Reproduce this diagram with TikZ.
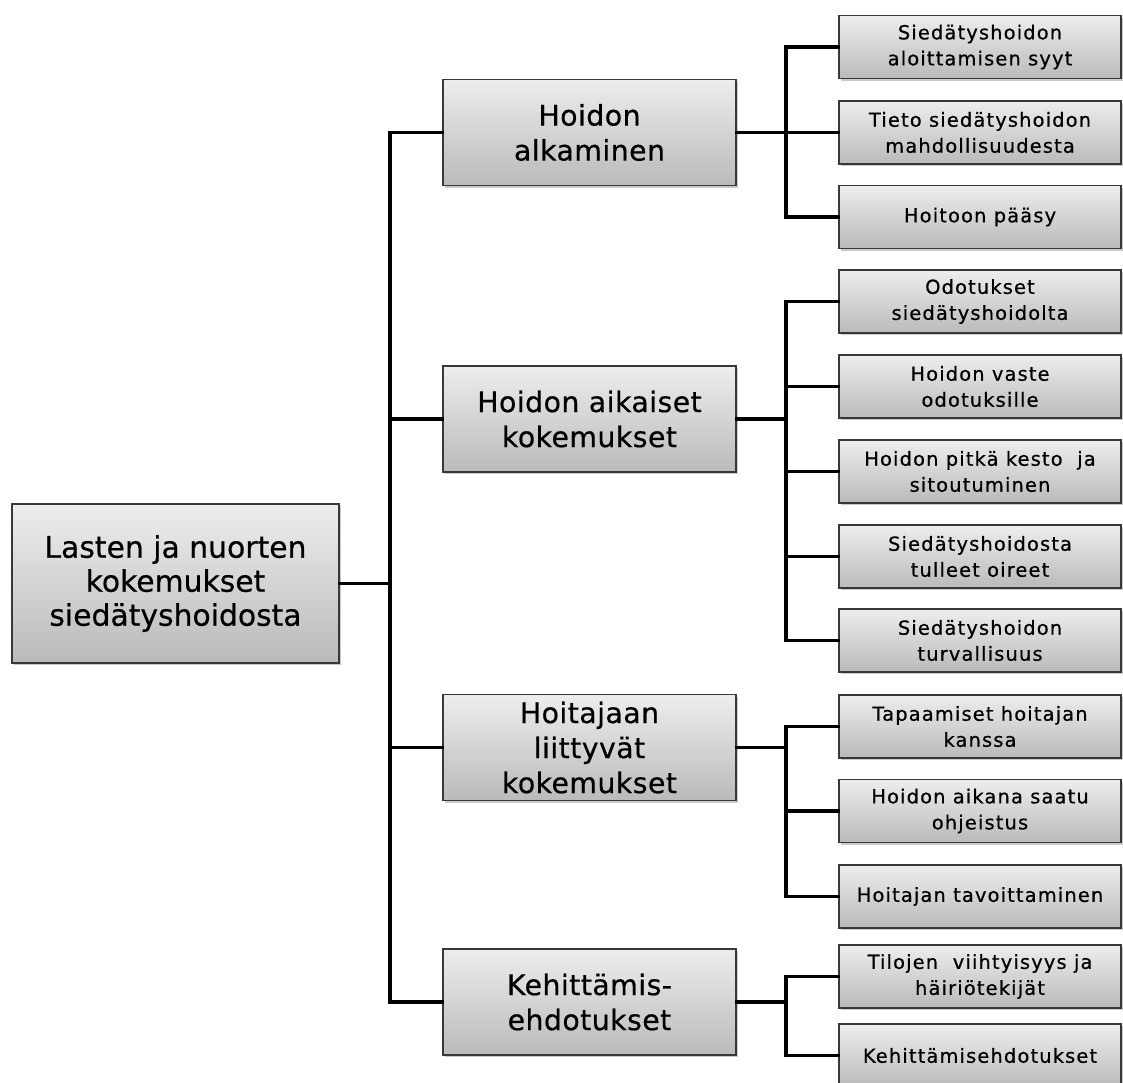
\documentclass[tikz,border=0pt]{standalone}
\usepackage{fontspec}
\setmainfont[FakeBold=0.5]{DejaVu Sans}
\newfontfamily\leaffont[LetterSpace=6,FakeBold=0.6]{DejaVu Sans}
\newfontfamily\midfont[LetterSpace=1.5,FakeBold=0.5]{DejaVu Sans}
\usetikzlibrary{shadows}
\begin{document}
\begin{tikzpicture}[x=1pt,y=-1pt,
  boxbase/.style={draw=black!78, line width=1.2pt, top color=black!7, bottom color=black!27,
    shading angle=0, align=center, inner sep=0pt,
    drop shadow={shadow xshift=1.5pt, shadow yshift=-2pt, opacity=0.35, fill=black!60}},
  rootbox/.style={boxbase, minimum width=327pt, minimum height=159pt, font=\fontsize{29.8}{34}\selectfont},
  midbox/.style={boxbase, minimum width=293pt, minimum height=106pt, font=\midfont\fontsize{28.4}{35}\selectfont},
  leafbox/.style={boxbase, minimum width=282pt, minimum height=63pt, font=\leaffont\fontsize{19.4}{26}\selectfont},
  link/.style={line width=3.2pt, line cap=rect}
]
\useasboundingbox (0,0) rectangle (1123,1082);
\clip (0,0) rectangle (1123,1082);

\node[rootbox] (root) at (175.5,583.5) {Lasten ja nuorten\\kokemukset\\siedätyshoidosta};

\node[midbox] (m1) at (589.5,132.5) {Hoidon\\alkaminen};
\node[midbox] (m2) at (589.5,419) {Hoidon aikaiset\\kokemukset};
\node[midbox] (m3) at (589.5,747.5) {Hoitajaan\\liittyvät\\kokemukset};
\node[midbox] (m4) at (589.5,1002) {Kehittämis-\\ehdotukset};

\node[leafbox] (a1) at (980,47) {Siedätyshoidon\\aloittamisen syyt};
\node[leafbox] (a2) at (980,132.5) {Tieto siedätyshoidon\\mahdollisuudesta};
\node[leafbox] (a3) at (980,217) {Hoitoon pääsy};

\node[leafbox] (b1) at (980,301.5) {Odotukset\\siedätyshoidolta};
\node[leafbox] (b2) at (980,386.5) {Hoidon vaste\\odotuksille};
\node[leafbox] (b3) at (980,471.5) {Hoidon pitkä kesto\ \ ja\\sitoutuminen};
\node[leafbox] (b4) at (980,556.5) {Siedätyshoidosta\\tulleet oireet};
\node[leafbox] (b5) at (980,640.5) {Siedätyshoidon\\turvallisuus};

\node[leafbox] (c1) at (980,726.5) {Tapaamiset hoitajan\\kanssa};
\node[leafbox] (c2) at (980,811) {Hoidon aikana saatu\\ohjeistus};
\node[leafbox] (c3) at (980,896.5) {Hoitajan tavoittaminen};

\node[leafbox] (d1) at (980,976.5) {Tilojen\ \ viihtyisyys ja\\häiriötekijät};
\node[leafbox] (d2) at (980,1055.5) {Kehittämisehdotukset};

\coordinate (tx) at (390,0);
\coordinate (sx) at (786,0);

% trunk
\draw[link] (m1.west) -- (m1.west -| tx) |- (m4.west);
\draw[link] (root.east) -- (root.east -| tx);
\draw[link] (m2.west) -- (m2.west -| tx);
\draw[link] (m3.west) -- (m3.west -| tx);

% group 1
\draw[link] (a1.west) -- (a1.west -| sx) |- (a3.west);
\draw[link] (a2.west) -- (m1.east);
% group 2
\draw[link] (b1.west) -- (b1.west -| sx) |- (b5.west);
\draw[link] (b2.west) -- (b2.west -| sx);
\draw[link] (b3.west) -- (b3.west -| sx);
\draw[link] (b4.west) -- (b4.west -| sx);
\draw[link] (m2.east) -- (m2.east -| sx);
% group 3
\draw[link] (c1.west) -- (c1.west -| sx) |- (c3.west);
\draw[link] (c2.west) -- (c2.west -| sx);
\draw[link] (m3.east) -- (m3.east -| sx);
% group 4
\draw[link] (d1.west) -- (d1.west -| sx) |- (d2.west);
\draw[link] (m4.east) -- (m4.east -| sx);
\end{tikzpicture}
\end{document}
